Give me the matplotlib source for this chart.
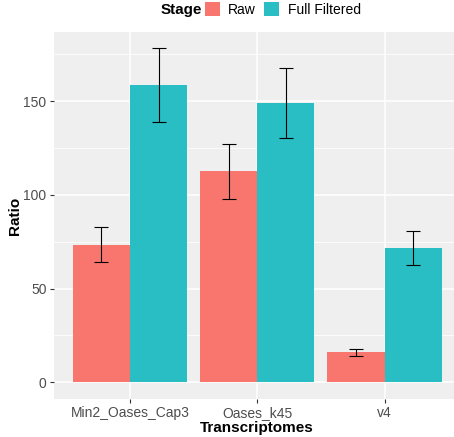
import numpy as np
import matplotlib.pyplot as plt
from matplotlib.patches import Patch

# data
transcriptomes = ['Min2_Oases_Cap3', 'Oases_k45', 'v4']
stages = ['Raw', 'Full Filtered']
raw_mean = [73.5, 112.5, 16.1]
raw_low = [64.0, 98.0, 13.8]
raw_high = [83.0, 127.2, 18.0]
full_mean = [158.6, 149.0, 71.8]
full_low = [139.0, 130.6, 62.6]
full_high = [178.2, 167.6, 80.8]

colors = ['#F8766D', '#29BDC4']

plt.rcParams['font.family'] = ['Liberation Sans', 'DejaVu Sans']

fig = plt.figure(figsize=(4.54, 4.37), dpi=100)
ax = fig.add_axes([53.5 / 454, 38 / 437, 407.4 / 454, 367 / 437])
ax.set_facecolor('#EFEFEF')

x = np.arange(len(transcriptomes))
w = 0.45
means = [raw_mean, full_mean]
lows = [raw_low, full_low]
highs = [raw_high, full_high]
for i, st in enumerate(stages):
    xs = x + (i - 0.5) * w
    ax.bar(xs, means[i], width=w, color=colors[i], zorder=2)
    m = np.array(means[i])
    err = [m - np.array(lows[i]), np.array(highs[i]) - m]
    ax.errorbar(xs, m, yerr=err, fmt='none', ecolor='black',
                elinewidth=0.8, capsize=4.7, capthick=0.8, zorder=3)

ax.set_xlim(-0.6, 2.6)
ax.set_ylim(-8.9, 186.9)
ax.set_yticks([0, 50, 100, 150])
ax.set_yticks([25, 75, 125, 175], minor=True)
ax.set_xticks(x)
ax.set_xticklabels(transcriptomes)
ax.grid(True, which='major', color='white', linewidth=1.1, zorder=0)
ax.grid(True, which='minor', axis='y', color='white', linewidth=0.55, zorder=0)
ax.set_axisbelow(True)
for s in ax.spines.values():
    s.set_visible(False)
ax.tick_params(axis='both', which='major', length=3, width=0.8, color='#333333',
               labelcolor='#4D4D4D', labelsize=10, pad=2)
ax.tick_params(axis='y', which='minor', length=0)

ax.set_xlabel('Transcriptomes', fontsize=11, fontweight='bold', labelpad=1)
ax.set_ylabel('Ratio', fontsize=11, fontweight='bold', labelpad=1)

fig.text(161 / 454, 1 - 10 / 437, 'Stage', fontsize=11, fontweight='bold',
         ha='left', va='center')
handles = [Patch(facecolor=c, edgecolor='none', label=l) for c, l in zip(colors, stages)]
fig.legend(handles=handles, loc='center left', bbox_to_anchor=(205 / 454, 1 - 9.5 / 437),
           ncol=2, frameon=False, fontsize=10, handlelength=1.08, handleheight=1.08,
           handletextpad=0.6, columnspacing=0.6, borderpad=0, borderaxespad=0)

fig.savefig('out.png', dpi=100)
